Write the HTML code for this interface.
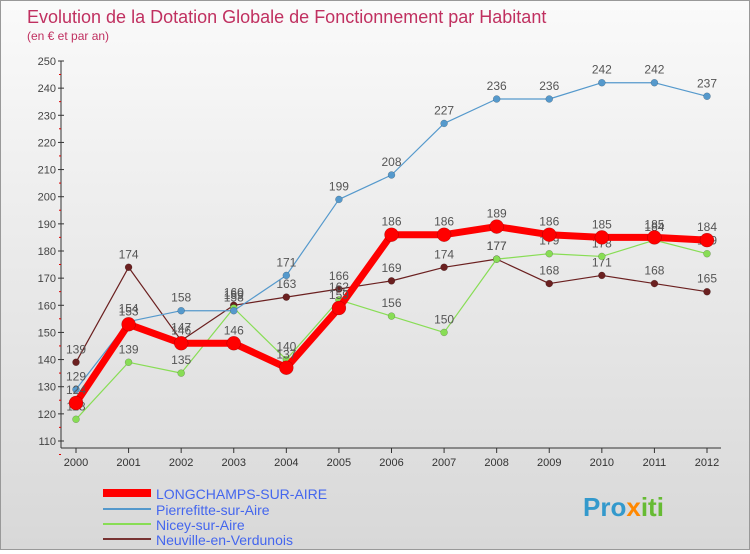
<!DOCTYPE html>
<html><head><meta charset="utf-8"><style>
body{margin:0;width:750px;height:550px;overflow:hidden;font-family:"Liberation Sans",sans-serif}
#wrap{position:relative;width:748px;height:548px;border:1px solid #999;background:linear-gradient(#fafafa,#d8d8d8)}
</style></head><body>
<div id="wrap">
<svg id="svg" width="748" height="548" xmlns="http://www.w3.org/2000/svg">
<text x="26" y="22" font-size="18" fill="#c03060">Evolution de la Dotation Globale de Fonctionnement par Habitant</text>
<text x="26" y="39" font-size="12" fill="#c03060">(en € et par an)</text>
<g id="grid"></g><g id="series"></g>
<g>
<line x1="102" y1="492" x2="150" y2="492" stroke="#ff0000" stroke-width="8"/>
<text x="155" y="498" font-size="14" fill="#4466ee">LONGCHAMPS-SUR-AIRE</text>
<line x1="102" y1="508" x2="150" y2="508" stroke="#5599cc" stroke-width="2"/>
<text x="155" y="514" font-size="14" fill="#4466ee">Pierrefitte-sur-Aire</text>
<line x1="102" y1="523" x2="150" y2="523" stroke="#88dd55" stroke-width="2"/>
<text x="155" y="529" font-size="14" fill="#4466ee">Nicey-sur-Aire</text>
<line x1="102" y1="538" x2="150" y2="538" stroke="#773333" stroke-width="2"/>
<text x="155" y="544" font-size="14" fill="#4466ee">Neuville-en-Verdunois</text>
</g>
<text x="582" y="515" font-size="26" font-weight="bold" fill="#3399cc">Pro<tspan fill="#ff8800">x</tspan><tspan fill="#66bb33">iti</tspan></text>
</svg></div>
<script>
const years=[2000,2001,2002,2003,2004,2005,2006,2007,2008,2009,2010,2011,2012];
const yTicks=[110,120,130,140,150,160,170,180,190,200,210,220,230,240,250];
const longchamps=[124,153,146,146,137,159,186,186,189,186,185,185,184];
const pierrefitte=[129,154,158,158,171,199,208,227,236,236,242,242,237];
const nicey=[118,139,135,159,140,162,156,150,177,179,178,184,179];
const neuville=[139,174,147,160,163,166,169,174,177,168,171,168,165];
const NS="http://www.w3.org/2000/svg";
const xS=i=>75+i*(706-75)/(years.length-1);
const yS=v=>440-(v-110)*(380/140);
function mk(t,a,p){const e=document.createElementNS(NS,t);for(const k in a)e.setAttribute(k,a[k]);p.appendChild(e);return e;}
const g=document.getElementById('grid');
const ax=mk('line',{x1:60,y1:60,x2:60,y2:447,stroke:'#333'},g);


const bx=mk('line',{x1:60,y1:447,x2:720,y2:447,stroke:'#333'},g);


yTicks.forEach(v=>{const y=yS(v);
mk('line',{x1:57,y1:y,x2:63,y2:y,stroke:'#333'},g);
mk('line',{x1:58,y1:y+13.5,x2:60,y2:y+13.5,stroke:'#d00'},g);
const t=mk('text',{x:55,y:y+4,'font-size':11,'text-anchor':'end',fill:'#444'},g);t.textContent=v;

});
years.forEach((yr,i)=>{const x=xS(i);
mk('line',{x1:x,y1:447,x2:x,y2:452,stroke:'#333'},g);
const t=mk('text',{x:x,y:465,'font-size':11,'text-anchor':'middle',fill:'#333'},g);t.textContent=yr;

});
const s=document.getElementById('series');
function draw(data,color,w,r,name){
const grp=mk('g',{},s);


mk('polyline',{points:data.map((v,i)=>xS(i)+','+yS(v)).join(' '),fill:'none',stroke:color,'stroke-width':w,'stroke-linejoin':'round'},grp);
data.forEach((v,i)=>{const c=mk('circle',{cx:xS(i),cy:yS(v),r:r,fill:color,stroke:'rgba(0,0,0,0.3)','stroke-width':0.5},grp);


const t=mk('text',{x:xS(i),y:yS(v)-9,'font-size':12,'text-anchor':'middle',fill:'#555'},grp);t.textContent=v;});}
draw(neuville,'#6b2020',1.2,3.5,'series-neuville');
draw(nicey,'#88dd55',1.2,3.5,'series-nicey');
draw(pierrefitte,'#5599cc',1.2,3.5,'series-pierrefitte');
draw(longchamps,'#ff0000',7,7,'series-longchamps');
</script>
</body></html>
